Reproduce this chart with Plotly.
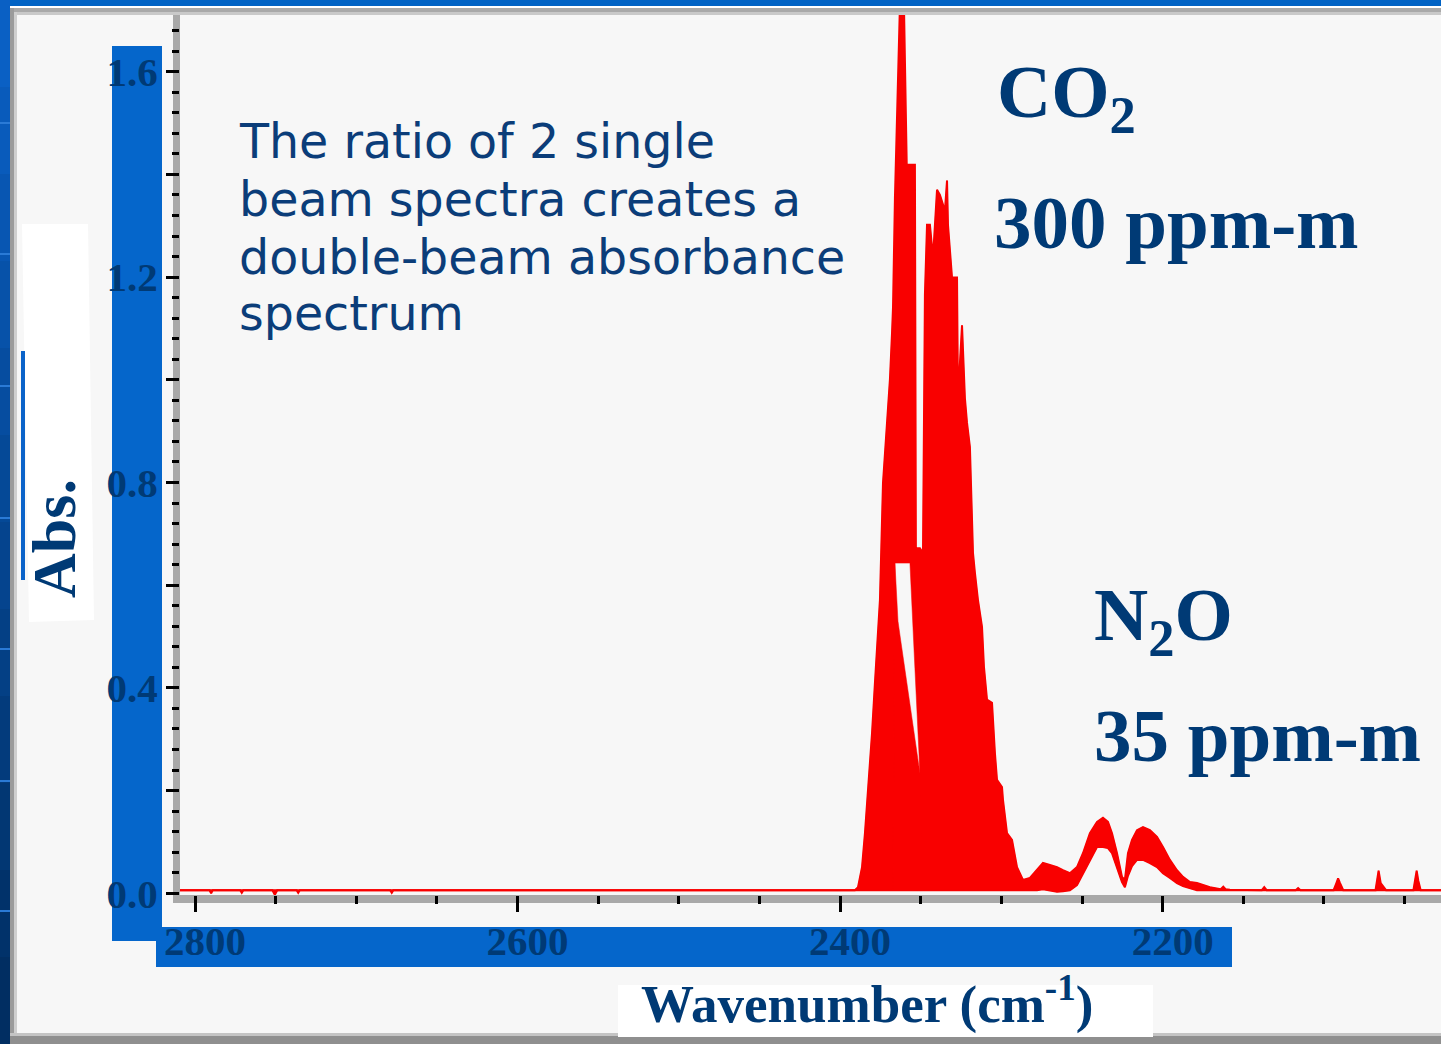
import plotly.graph_objects as go

# ---------------------------------------------------------------- data
# Open-path absorbance spectrum (wavenumber in cm-1, descending).
# The dense CO2 / N2O rotational lines are given as the upper and lower
# envelopes of the line structure; the band is the area between them.
wavenumber = [
    2812.0, 2791.0, 2790.0, 2789.0, 2772.0, 2771.0, 2770.0, 2752.0, 2750.5, 2749.0,
    2737.0, 2736.0, 2735.0, 2679.0, 2678.0, 2677.0,
    2390.8, 2388.9, 2386.4, 2384.6, 2381.5, 2380.2, 2378.4, 2377.1, 2375.3, 2373.4,
    2372.2, 2370.3, 2369.1, 2367.8, 2367.2, 2366.0, 2364.1, 2362.9, 2360.4, 2359.8,
    2358.5, 2357.9, 2356.7, 2353.6, 2353.0, 2350.5, 2348.6, 2347.4, 2346.1, 2344.3,
    2342.4, 2339.9, 2338.1, 2335.0, 2333.7, 2333.1, 2330.6, 2327.5, 2326.9, 2324.4,
    2322.6, 2321.3, 2319.5, 2317.6, 2316.4, 2314.5, 2312.0, 2310.8, 2308.9, 2305.8,
    2304.0, 2302.7, 2299.6, 2299.0, 2296.5, 2293.4, 2290.3, 2286.6, 2282.3, 2277.9,
    2274.2, 2269.9, 2265.5, 2261.8, 2257.5, 2253.1, 2249.4, 2245.1, 2240.7, 2237.0,
    2233.9, 2231.4, 2228.3, 2225.2, 2223.4, 2221.5, 2219.0, 2215.9, 2212.2, 2207.9,
    2203.5, 2199.8, 2195.5, 2191.1, 2187.4, 2183.1, 2178.7, 2170.7,
    2164.0, 2162.4, 2161.0, 2158.3,
    2138.5, 2137.0, 2135.5, 2117.5, 2116.0, 2114.5,
    2094.0, 2092.5, 2091.2, 2090.0, 2088.0,
    2068.0, 2066.1, 2064.8, 2063.0, 2061.5,
    2044.5, 2043.0, 2042.5, 2041.5, 2040.0, 2025.0,
]

# top of the line structure
abs_upper = [
    0.006, 0.006, 0.006, 0.006, 0.006, 0.006, 0.006, 0.006, 0.006, 0.006,
    0.006, 0.006, 0.006, 0.006, 0.006, 0.006,
    0.006, 0.012, 0.051, 0.117, 0.246, 0.312, 0.410, 0.474, 0.571, 0.799,
    0.857, 0.960, 1.001, 1.091, 1.140, 1.354, 1.591, 1.730, 1.730, 1.601,
    1.388, 1.419, 1.419, 1.419, 0.672, 0.672, 0.663, 1.166, 1.302, 1.302,
    1.238, 1.370, 1.360, 1.329, 1.388, 1.302, 1.199, 1.199, 0.964, 1.106,
    0.964, 0.916, 0.869, 0.663, 0.624, 0.571, 0.519, 0.441, 0.377, 0.371,
    0.273, 0.221, 0.207, 0.182, 0.117, 0.104, 0.051, 0.026, 0.030, 0.045,
    0.059, 0.055, 0.051, 0.045, 0.039, 0.051, 0.078, 0.117, 0.139, 0.147,
    0.139, 0.117, 0.078, 0.032, 0.026, 0.078, 0.104, 0.123, 0.129, 0.123,
    0.110, 0.090, 0.065, 0.045, 0.032, 0.022, 0.020, 0.012,
    0.008, 0.013, 0.008, 0.007,
    0.006, 0.012, 0.006, 0.006, 0.010, 0.006,
    0.006, 0.018, 0.029, 0.020, 0.006,
    0.006, 0.044, 0.020, 0.013, 0.006,
    0.006, 0.030, 0.044, 0.025, 0.006, 0.006,
]

# bottom of the line structure
abs_lower = [
    0.006, 0.006, 0.000, 0.006, 0.006, 0.001, 0.006, 0.006, -0.003, 0.006,
    0.006, 0.001, 0.006, 0.006, 0.001, 0.006,
    0.006, 0.006, 0.006, 0.006, 0.006, 0.006, 0.006, 0.006, 0.006, 0.006,
    0.006, 0.006, 0.006, 0.006, 0.006, 0.006, 0.006, 0.006, 0.006, 0.006,
    0.006, 0.006, 0.006, 0.006, 0.006, 0.006, 0.006, 0.006, 0.006, 0.006,
    0.006, 0.006, 0.006, 0.006, 0.006, 0.006, 0.006, 0.006, 0.006, 0.006,
    0.006, 0.006, 0.006, 0.006, 0.006, 0.006, 0.006, 0.006, 0.006, 0.006,
    0.006, 0.006, 0.006, 0.006, 0.006, 0.006, 0.006, 0.006, 0.006, 0.006,
    0.008, 0.006, 0.003, 0.004, 0.006, 0.016, 0.039, 0.065, 0.090, 0.090,
    0.088, 0.078, 0.051, 0.022, 0.012, 0.034, 0.053, 0.065, 0.065, 0.059,
    0.051, 0.039, 0.030, 0.020, 0.014, 0.010, 0.006, 0.006,
    0.006, 0.006, 0.006, 0.006,
    0.006, 0.006, 0.006, 0.006, 0.006, 0.006,
    0.006, 0.006, 0.006, 0.006, 0.006,
    0.006, 0.006, 0.006, 0.006, 0.006,
    0.006, 0.006, 0.006, 0.006, 0.006, 0.006,
]

# open gap between the R and P branches: wavenumber -> (gap top, gap bottom)
branch_gap = {
    2366.0: (0.643, 0.643),
    2364.1: (0.643, 0.530),
    2362.9: (0.643, 0.503),
    2360.4: (0.643, 0.450),
    2359.8: (0.643, 0.437),
    2358.5: (0.643, 0.410),
    2357.9: (0.643, 0.396),
    2356.7: (0.643, 0.369),
    2353.6: (0.438, 0.302),
    2353.0: (0.397, 0.289),
    2350.5: (0.234, 0.234),
}

x_major_step, x_minor_step = 200, 50
y_major_step, y_minor_step = 0.2, 0.04

note_lines = [
    "The ratio of 2 single",
    "beam spectra creates a",
    "double-beam absorbance",
    "spectrum",
]
gas_labels = [
    ("CO<sub>2</sub>", 995, 97),
    ("300 ppm-m", 992, 223),
    ("N<sub>2</sub>O", 1092, 620),
    ("35 ppm-m", 1092, 735),
]

# Two overlapping red areas leave the gap open: the upper one runs from the
# gap top to the top envelope, the lower one from the bottom envelope to the
# gap bottom; away from the gap each of them spans the whole band.
gap_top = [branch_gap[w][0] if w in branch_gap else lo
           for w, lo in zip(wavenumber, abs_lower)]
gap_bottom = [branch_gap[w][1] if w in branch_gap else hi
              for w, hi in zip(wavenumber, abs_upper)]

# ---------------------------------------------------------------- geometry
W, H = 1441, 1044
ML, MR, MT, MB = 180, 0, 15, 149
PW, PH = W - ML - MR, H - MT - MB


def fx(px):
    """page pixel column -> paper x"""
    return (px - ML) / PW


def fy(py):
    """page pixel row -> paper y"""
    return (H - MB - py) / PH


NAVY = "#003a75"
RED = "#f90000"
LABEL_BLUE = "#0566cb"
SERIF = "Liberation Serif, Times New Roman, serif"

fig = go.Figure()
# bottom envelope (drawn line)
fig.add_trace(go.Scatter(
    x=wavenumber, y=abs_lower, mode="lines",
    line=dict(color=RED, width=2), hoverinfo="skip",
))
# lower red area: bottom envelope up to the gap bottom
fig.add_trace(go.Scatter(
    x=wavenumber, y=gap_bottom, mode="lines", fill="tonexty",
    fillcolor=RED, line=dict(color=RED, width=0.5), hoverinfo="skip",
))
# gap top (reference edge for the upper area)
fig.add_trace(go.Scatter(
    x=wavenumber, y=gap_top, mode="lines",
    line=dict(color=RED, width=0.5), hoverinfo="skip",
))
# upper red area: gap top up to the top envelope
fig.add_trace(go.Scatter(
    x=wavenumber, y=abs_upper, mode="lines", fill="tonexty",
    fillcolor=RED, line=dict(color=RED, width=2), hoverinfo="skip",
))

shapes = []


def rect(x0, y0, x1, y1, color, layer="below"):
    shapes.append(dict(
        type="rect", xref="paper", yref="paper", layer=layer,
        x0=fx(x0), x1=fx(x1), y0=fy(y1), y1=fy(y0),
        fillcolor=color, line=dict(width=0),
    ))


# slide frame: blue strip at the top and the left, grey bevels
rect(0, 0, 1445, 6, "#0062c4")
rect(0, 6, 1445, 8, "#ffffff")
rect(0, 8, 1445, 12, "#a9a9a9")
rect(0, 12, 1445, 15, "#c9c9c9")
n_bands = 12
for i in range(n_bands):
    t = i / (n_bands - 1)
    r = int(10 + (1 - 10) * t)
    g = int(96 + (46 - 96) * t)
    b = int(196 + (98 - 196) * t)
    rect(0, i * H / n_bands, 10, (i + 1) * H / n_bands + 1, f"rgb({r},{g},{b})")
for yy in [122, 253, 385, 517, 648, 780, 910]:
    rect(0, yy, 10, yy + 2, "#2a7ad6")
rect(10, 8, 14, 1044, "#9b9b9b")
rect(14, 12, 17, 1044, "#cfcfcf")
rect(10, 1033, 1445, 1036, "#c4c4c4")
rect(10, 1036, 1445, 1044, "#8f8f8f")

# grey axis bars under the tick marks
rect(173, 15, 180, 903, "#a9a9a9")
rect(173, 895, 1445, 903, "#a9a9a9")

# coloured boxes behind the tick labels and the titles
rect(112, 46, 162, 941, LABEL_BLUE)
rect(156, 927, 1232, 967, LABEL_BLUE)
rect(618, 985, 1153, 1037, "#ffffff")
shapes.append(dict(
    type="path", xref="paper", yref="paper", layer="below",
    path=(f"M{fx(22):.5f},{fy(224):.5f} L{fx(88):.5f},{fy(224):.5f} "
          f"L{fx(94):.5f},{fy(620):.5f} L{fx(29):.5f},{fy(622):.5f} Z"),
    fillcolor="#ffffff", line=dict(width=0),
))
rect(21, 351, 25, 580, "#0b63c9")

annotations = []
for text, px, py in gas_labels:
    annotations.append(dict(
        text=text, xref="paper", yref="paper", x=fx(px), y=fy(py),
        xanchor="left", yanchor="middle", showarrow=False,
        font=dict(family=SERIF, size=75, color=NAVY, weight="bold"),
    ))

note_baselines = [157, 215, 273, 330]
for line, base in zip(note_lines, note_baselines):
    annotations.append(dict(
        text=line, xref="paper", yref="paper", x=fx(237), y=fy(base - 16),
        xanchor="left", yanchor="middle", showarrow=False,
        font=dict(family="DejaVu Sans, Verdana, sans-serif", size=47.5,
                  color="#0b3d79"),
    ))

annotations.append(dict(
    text="Abs.", xref="paper", yref="paper", x=fx(54), y=fy(538),
    xanchor="center", yanchor="middle", textangle=-90, showarrow=False,
    font=dict(family=SERIF, size=62, color=NAVY, weight="bold"),
))
annotations.append(dict(
    text="Wavenumber (cm<sup>-1</sup>)", xref="paper", yref="paper",
    x=fx(867), y=fy(1000), xanchor="center", yanchor="middle", showarrow=False,
    font=dict(family=SERIF, size=53, color=NAVY, weight="bold"),
))

tick_font = dict(family=SERIF, size=41, color=NAVY, weight="bold")

fig.update_layout(
    width=W, height=H, autosize=False,
    margin=dict(l=ML, r=MR, t=MT, b=MB, pad=0),
    paper_bgcolor="#f7f7f7", plot_bgcolor="#f7f7f7",
    showlegend=False,
    shapes=shapes, annotations=annotations,
    xaxis=dict(
        range=[2809.3, 2027.4], showgrid=False, zeroline=False, showline=False,
        tickmode="linear", tick0=2800, dtick=x_major_step, tickformat="d",
        ticks="outside", ticklen=16, tickwidth=2.5, tickcolor="black",
        minor=dict(tickmode="linear", tick0=2800, dtick=x_minor_step,
                   ticks="outside", ticklen=8, tickwidth=2.5,
                   tickcolor="black", showgrid=False),
        tickfont=tick_font, ticklabelshift=-10, ticklabelstandoff=-6,
    ),
    yaxis=dict(
        range=[-0.0033, 1.7104], showgrid=False, zeroline=False, showline=False,
        tickmode="linear", tick0=0, dtick=y_major_step, ticklabelstep=2,
        tickformat=".1f",
        ticks="outside", ticklen=13, tickwidth=2.5, tickcolor="black",
        minor=dict(tickmode="linear", tick0=0, dtick=y_minor_step,
                   ticks="outside", ticklen=7, tickwidth=2.5,
                   tickcolor="black", showgrid=False),
        tickfont=tick_font,
    ),
)

fig.write_html("out.html")
